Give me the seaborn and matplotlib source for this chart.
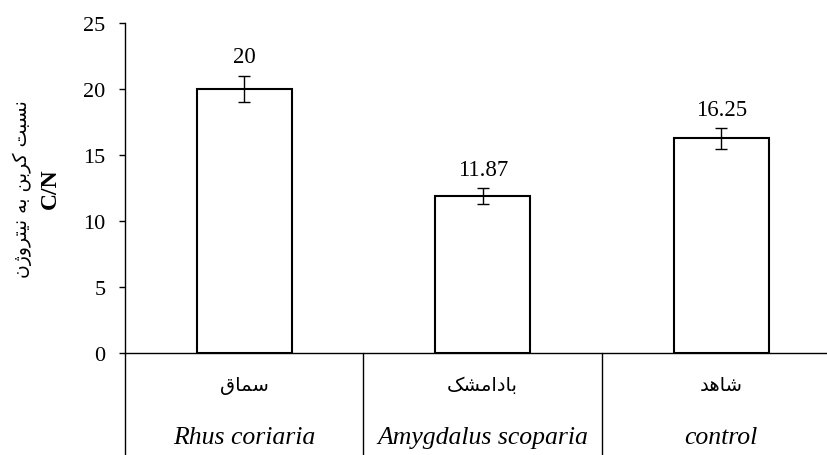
import matplotlib
matplotlib.use("Agg")
import matplotlib.pyplot as plt
import matplotlib.transforms as mtransforms
import seaborn as sns
import pandas as pd

species_fa = ["سماق", "بادامشک", "شاهد"]
species_en = ["Rhus coriaria", "Amygdalus scoparia", "control"]
cn_ratio = [20, 11.87, 16.25]
cn_err = [1.0, 0.6, 0.8]
value_labels = ["20", "11.87", "16.25"]
ylabel_fa = "نسبت کربن به نیتروژن"
ylabel_en = "C/N"

# matplotlib does no Arabic shaping, so pick the joined forms by hand
# (isolated, final, initial, medial); right-joining letters have no initial/medial
FORMS = {
    "ا": ("\uFE8D", "\uFE8E", None, None),
    "ب": ("\uFE8F", "\uFE90", "\uFE91", "\uFE92"),
    "ت": ("\uFE95", "\uFE96", "\uFE97", "\uFE98"),
    "د": ("\uFEA9", "\uFEAA", None, None),
    "ر": ("\uFEAD", "\uFEAE", None, None),
    "ژ": ("\uFB8A", "\uFB8B", None, None),
    "س": ("\uFEB1", "\uFEB2", "\uFEB3", "\uFEB4"),
    "ش": ("\uFEB5", "\uFEB6", "\uFEB7", "\uFEB8"),
    "ق": ("\uFED5", "\uFED6", "\uFED7", "\uFED8"),
    "ک": ("\uFB8E", "\uFB8F", "\uFB90", "\uFB91"),
    "م": ("\uFEE1", "\uFEE2", "\uFEE3", "\uFEE4"),
    "ن": ("\uFEE5", "\uFEE6", "\uFEE7", "\uFEE8"),
    "ه": ("\uFEE9", "\uFEEA", "\uFEEB", "\uFEEC"),
    "و": ("\uFEED", "\uFEEE", None, None),
    "ی": ("\uFBFC", "\uFBFD", "\uFBFE", "\uFBFF"),
}


def shape(text):
    out = []
    for i, ch in enumerate(text):
        if ch not in FORMS:
            out.append(ch)
            continue
        prev = text[i - 1] if i > 0 else None
        nxt = text[i + 1] if i < len(text) - 1 else None
        iso, fin, ini, med = FORMS[ch]
        join_prev = prev in FORMS and FORMS[prev][2] is not None
        join_next = nxt in FORMS and ini is not None
        if join_prev and join_next:
            out.append(med)
        elif join_prev:
            out.append(fin)
        elif join_next:
            out.append(ini)
        else:
            out.append(iso)
    return "".join(reversed(out))


sns.set_theme(style="ticks")
plt.rcParams["font.family"] = ["Liberation Serif", "DejaVu Sans"]
plt.rcParams["axes.linewidth"] = 1.0
for key in ["text.color", "axes.labelcolor", "xtick.color", "ytick.color", "axes.edgecolor"]:
    plt.rcParams[key] = "black"

df = pd.DataFrame({"species": species_en, "cn": cn_ratio})

fig = plt.figure(figsize=(8.28, 4.56), dpi=100)
ax = fig.add_axes([125 / 828, 102 / 456, 703 / 828, 330 / 456])

sns.barplot(data=df, x="species", y="cn", color="white", saturation=1,
            edgecolor="black", linewidth=1.5, width=0.4, errorbar=None, ax=ax)
ax.errorbar(range(len(cn_ratio)), cn_ratio, yerr=cn_err, fmt="none",
            ecolor="black", elinewidth=1.0, capsize=4.3, capthick=1.0)

for i, (v, e, lab) in enumerate(zip(cn_ratio, cn_err, value_labels)):
    ax.annotate(lab, (i, v + e), xytext=(0, 6), textcoords="offset points",
                ha="center", va="bottom", fontsize=16.5)

ax.set_xlim(-0.5, -0.5 + 703 / 238.5)
ax.set_ylim(0, 25)
ax.set_yticks([0, 5, 10, 15, 20, 25])
ax.tick_params(axis="y", labelsize=16, length=4, width=1.0, pad=10)
ax.tick_params(axis="x", bottom=False, labelbottom=False)
ax.set_xlabel("")
ax.set_ylabel("")
sns.despine(ax=ax, top=True, right=True)

# category boxes under the axis
for xs in [-0.5, 0.5, 1.5]:
    ax.axvline(xs, ymin=-0.32, ymax=0, color="black", lw=1.0, clip_on=False)

trans = mtransforms.blended_transform_factory(ax.transData, ax.transAxes)
for i, (fa, en) in enumerate(zip(species_fa, species_en)):
    ax.text(i, -0.094, shape(fa), transform=trans, ha="center", va="center",
            fontsize=14, family=["DejaVu Sans"])
    ax.text(i, -0.255, en, transform=trans, ha="center", va="center",
            fontsize=18.5, style="italic")

fig.text(22 / 828, 1 - 189 / 456, shape(ylabel_fa), rotation=90,
         ha="center", va="center", fontsize=13.5, family=["DejaVu Sans"])
fig.text(50 / 828, 1 - 189 / 456, ylabel_en, rotation=90,
         ha="center", va="center", fontsize=17, fontweight="bold")

fig.savefig("out.png", dpi=100)
